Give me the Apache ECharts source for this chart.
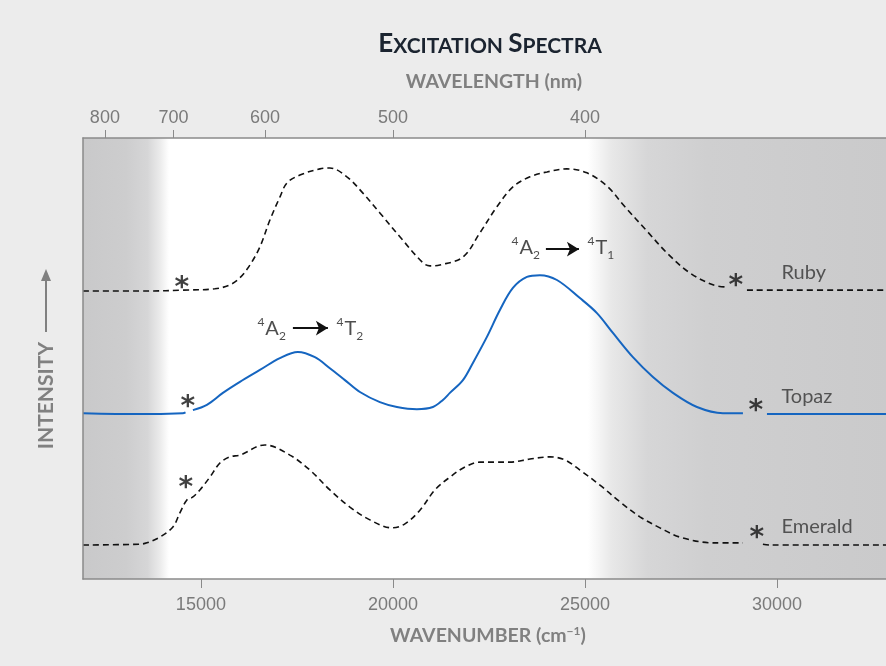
<!DOCTYPE html>
<html>
<head>
<meta charset="utf-8">
<script src="https://cdn.jsdelivr.net/npm/echarts@6/dist/echarts.min.js"></script>
<style>
  html, body { margin: 0; padding: 0; background: #ececec; }
  #chart { width: 886px; height: 666px; }
</style>
</head>
<body>
<div id="chart"></div>
<script>
// ---------------- data ----------------
const wavenumberRange = [11930, 32840];
const intensityRange = [0, 100];
const wavenumberTicks = [15000, 20000, 25000, 30000];
const wavelengthTicks = [800, 700, 600, 500, 400];

// [wavenumber cm^-1, relative intensity (offset per sample)]
const rubyData = [
  [11930, 65.3], [13672, 65.3], [14505, 65.5], [15365, 65.8], [15755, 66.7],
  [16016, 68.3], [16276, 71.2], [16536, 75.3], [16797, 81.4], [17057, 86.6],
  [17240, 89.8], [17578, 91.6], [18099, 93.0], [18359, 93.2], [18802, 91.2],
  [19219, 87.5], [19661, 83.0], [20182, 77.6], [20781, 71.7], [20964, 71.0],
  [21224, 71.2], [21823, 73.0], [22266, 78.5], [22708, 84.4], [23125, 88.9],
  [23568, 91.2], [24011, 92.3], [24531, 93.0], [25052, 92.1], [25573, 89.1],
  [26042, 84.4], [26615, 78.9], [27162, 73.7], [27734, 69.4], [28333, 66.7],
  [28698, 66.2], [28800, null], [29219, 65.5], [32840, 65.5]
];
const topazData = [
  [11930, 37.6], [13411, 37.4], [14531, 37.6], [14600, 37.8], [14680, null],
  [14792, 38.3], [15156, 39.5], [15573, 42.2], [16016, 44.7], [16536, 47.4],
  [17057, 50.1], [17526, 51.5], [17969, 50.3], [18359, 47.8], [18750, 45.1],
  [19141, 42.4], [19661, 40.1], [20104, 39.0], [20625, 38.5], [21042, 39.0],
  [21302, 40.6], [21484, 42.2], [21823, 45.1], [22083, 49.0], [22448, 54.9],
  [22786, 61.0], [23125, 66.0], [23490, 68.5], [23828, 68.9], [24271, 67.8],
  [24870, 63.7], [25313, 60.3], [25729, 55.8], [26250, 50.3], [26771, 45.8],
  [27292, 42.2], [27917, 39.0], [28594, 37.6], [29115, 37.6], [29400, null],
  [29740, 37.4], [32840, 37.4]
];
const emeraldData = [
  [11930, 7.7], [13411, 7.9], [13594, 8.2], [13932, 9.5], [14271, 11.8],
  [14453, 15.0], [14635, 17.9], [14792, 18.6], [14974, 20.2], [15234, 23.1],
  [15495, 26.3], [15755, 27.7], [16016, 28.1], [16667, 30.4], [17318, 28.1],
  [17839, 24.7], [18359, 20.2], [18880, 16.3], [19401, 13.4], [19974, 11.6],
  [20313, 12.5], [20703, 15.6], [21094, 20.2], [21484, 23.1], [21875, 25.4],
  [22266, 26.5], [22656, 26.5], [23047, 26.5], [23568, 27.2], [24089, 27.7],
  [24479, 27.0], [24870, 24.7], [25391, 21.3], [25911, 17.5], [26432, 14.1],
  [26953, 11.6], [27474, 9.5], [28333, 8.2], [29115, 8.2], [29400, null],
  [29635, 7.9], [29818, 7.7], [32840, 7.7]
];
// asterisk markers [wavenumber, intensity]
const asteriskMarks = [
  [14505, 67.1], [28932, 67.6],
  [14661, 40.1], [29453, 39.2],
  [14609, 21.8], [29479, 10.4]
];
// sample names [wavenumber, intensity, name]
const sampleLabels = [
  [30104, 69.6, 'Ruby'],
  [30104, 41.3, 'Topaz'],
  [30104, 11.8, 'Emerald']
];
// transition annotations: ground state, excited state, arrows
const transitionGround = [[16458, 56.7, '4', 'A', '2'], [23073, 75.1, '4', 'A', '2']];
const transitionExcited = [[18516, 56.7, '4', 'T', '2'], [25052, 75.1, '4', 'T', '1']];
const transitionArrows = [
  [[17396, 56.9], [18307, 56.9]],
  [[23984, 74.8], [24844, 74.8]]
];
// shaded bands in wavenumber
const shadedBands = [[11930, 14170], [25078, 32840]];

// ---------------- chart ----------------
const chart = echarts.init(document.getElementById('chart'));
const axisGray = '#8a8a8a';
const labelGray = '#7a7a7a';
const richAnno = {
  sup: { fontSize: 12, fontFamily: 'Lato', color: '#222', verticalAlign: 'top', lineHeight: 26, padding: [0, 1, 0, 0] },
  main: { fontSize: 20, fontFamily: 'Lato', color: '#222', lineHeight: 26 },
  sub: { fontSize: 12, fontFamily: 'Lato', color: '#222', verticalAlign: 'bottom', lineHeight: 26 }
};

const option = {
  backgroundColor: '#ececec',
  animation: false,
  grid: {
    left: 83, right: 0, top: 138, bottom: 87,
    show: true, backgroundColor: '#ffffff', borderWidth: 0,
    outerBoundsMode: 'none'
  },
  xAxis: [
    {
      type: 'value', position: 'bottom', z: 10,
      min: wavenumberRange[0], max: wavenumberRange[1],
      axisLine: { show: true, lineStyle: { color: axisGray, width: 1.5 } },
      axisTick: { show: true, customValues: wavenumberTicks, length: 9, lineStyle: { color: axisGray, width: 1 } },
      axisLabel: { customValues: wavenumberTicks, formatter: v => String(v), color: labelGray, fontSize: 18, fontFamily: 'Liberation Sans', margin: 17 },
      splitLine: { show: false }
    },
    {
      type: 'value', position: 'top', z: 10,
      min: wavenumberRange[0], max: wavenumberRange[1],
      axisLine: { show: true, lineStyle: { color: axisGray, width: 1.5 } },
      axisTick: { show: true, customValues: wavelengthTicks.map(l => 1e7 / l), length: 8, lineStyle: { color: axisGray, width: 1 } },
      axisLabel: {
        customValues: wavelengthTicks.map(l => 1e7 / l),
        formatter: v => String(Math.round(1e7 / v)),
        color: labelGray, fontSize: 18, fontFamily: 'Liberation Sans', margin: 11
      },
      splitLine: { show: false }
    }
  ],
  yAxis: {
    type: 'value', min: intensityRange[0], max: intensityRange[1], z: 10,
    axisLine: { show: true, lineStyle: { color: axisGray, width: 1.5 } },
    axisTick: { show: false }, axisLabel: { show: false }, splitLine: { show: false }
  },
  series: [
    {
      type: 'line', name: 'bands', data: [], silent: true, z: 0,
      markArea: {
        silent: true,
        data: [
          [{ xAxis: shadedBands[0][0], itemStyle: { color: { type: 'linear', x: 0, y: 0, x2: 1, y2: 0, colorStops: [
            { offset: 0, color: '#c9c9ca' }, { offset: 0.5, color: '#cdcdce' }, { offset: 0.75, color: '#d6d6d7' },
            { offset: 0.9, color: '#ececec' }, { offset: 1, color: '#ffffff' } ] } } },
           { xAxis: shadedBands[0][1] }],
          [{ xAxis: shadedBands[1][0], itemStyle: { color: { type: 'linear', x: 0, y: 0, x2: 1, y2: 0, colorStops: [
            { offset: 0, color: '#ffffff' }, { offset: 0.08, color: '#e8e8e8' }, { offset: 0.2, color: '#d6d6d7' },
            { offset: 0.4, color: '#cfcfd0' }, { offset: 1, color: '#cacacb' } ] } } },
           { xAxis: shadedBands[1][1] }]
        ]
      }
    },
    {
      type: 'line', name: 'Ruby', data: rubyData, smooth: 0.35, showSymbol: false, z: 3,
      lineStyle: { color: '#111', width: 1.6, type: [6, 4] }
    },
    {
      type: 'line', name: 'Topaz', data: topazData, smooth: 0.35, showSymbol: false, z: 3,
      lineStyle: { color: '#1565c0', width: 2 }
    },
    {
      type: 'line', name: 'Emerald', data: emeraldData, smooth: 0.35, showSymbol: false, z: 3,
      lineStyle: { color: '#111', width: 1.6, type: [6, 4] }
    },
    {
      type: 'scatter', name: 'asterisks', data: asteriskMarks, symbolSize: 1, z: 4,
      itemStyle: { color: 'rgba(0,0,0,0)' },
      label: { show: true, position: 'inside', formatter: '*', fontSize: 28, fontWeight: 'bold', fontFamily: 'DejaVu Sans', color: '#111', offset: [0, 6] }
    },
    {
      type: 'scatter', name: 'sampleNames', data: sampleLabels, symbolSize: 1, z: 4,
      itemStyle: { color: 'rgba(0,0,0,0)' },
      label: { show: true, position: 'right', distance: 0, formatter: p => p.value[2], fontSize: 20, fontFamily: 'Lato', color: '#333' }
    },
    {
      type: 'scatter', name: 'ground', data: transitionGround, symbolSize: 1, z: 4,
      itemStyle: { color: 'rgba(0,0,0,0)' },
      label: { show: true, position: 'right', distance: 0,
        formatter: p => '{sup|' + p.value[2] + '}{main|' + p.value[3] + '}{sub|' + p.value[4] + '}', rich: richAnno },
      markLine: {
        silent: true, symbol: ['none', 'arrow'], symbolSize: [11, 12], label: { show: false },
        lineStyle: { color: '#111', width: 2, type: 'solid' },
        data: transitionArrows.map(a => [{ coord: a[0] }, { coord: a[1] }])
      }
    },
    {
      type: 'scatter', name: 'excited', data: transitionExcited, symbolSize: 1, z: 4,
      itemStyle: { color: 'rgba(0,0,0,0)' },
      label: { show: true, position: 'right', distance: 0,
        formatter: p => '{sup|' + p.value[2] + '}{main|' + p.value[3] + '}{sub|' + p.value[4] + '}', rich: richAnno }
    }
  ],
  graphic: [
    {
      type: 'text', x: 490, y: 57,
      style: {
        text: '{big|E}{small|XCITATION }{big|S}{small|PECTRA}', align: 'center', verticalAlign: 'bottom',
        rich: {
          big: { fontSize: 26, fontWeight: 'bold', fontFamily: 'Lato', fill: '#1b2430', verticalAlign: 'bottom', lineHeight: 28 },
          small: { fontSize: 21, fontWeight: 'bold', fontFamily: 'Lato', fill: '#1b2430', verticalAlign: 'bottom', lineHeight: 28 }
        }
      }
    },
    {
      type: 'text', x: 494, y: 82,
      style: { text: 'WAVELENGTH (nm)', fontSize: 19.5, fontWeight: 'bold', fontFamily: 'Lato', fill: '#808080', align: 'center', verticalAlign: 'middle' }
    },
    {
      type: 'text', x: 488, y: 636,
      style: {
        text: '{t|WAVENUMBER (cm}{s|−1}{t|)}', align: 'center', verticalAlign: 'middle',
        rich: {
          t: { fontSize: 19.5, fontWeight: 'bold', fontFamily: 'Lato', fill: '#808080', lineHeight: 22 },
          s: { fontSize: 12, fontWeight: 'bold', fontFamily: 'Lato', fill: '#808080', verticalAlign: 'top', lineHeight: 22 }
        }
      }
    },
    {
      type: 'group', x: 46, y: 395, rotation: Math.PI / 2,
      children: [
        { type: 'text', x: 53, y: 0, style: { text: 'INTENSITY', fontSize: 21, fontWeight: 'bold', fontFamily: 'Lato', fill: '#808080', align: 'right', verticalAlign: 'middle' } },
        { type: 'line', shape: { x1: 63, y1: 0, x2: 118, y2: 0 }, style: { stroke: '#808080', lineWidth: 2 } },
        { type: 'polygon', shape: { points: [[126, 0], [114, -5], [114, 5]] }, style: { fill: '#808080' } }
      ]
    }
  ]
};
chart.setOption(option);
</script>
</body>
</html>
